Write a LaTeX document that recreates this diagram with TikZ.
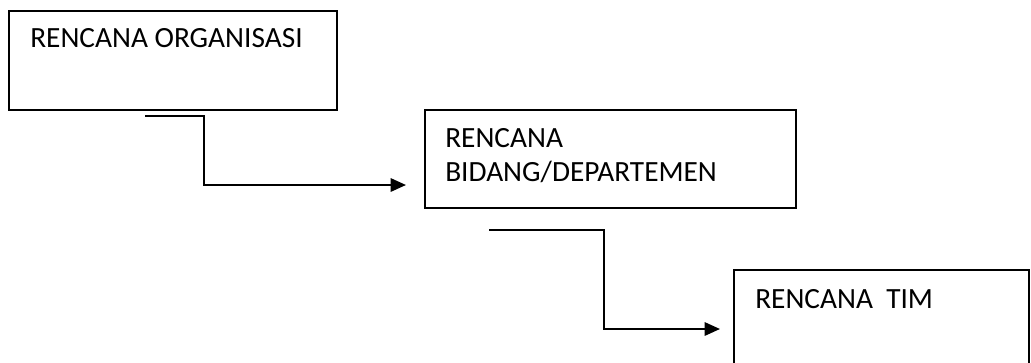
\documentclass[tikz,border=0pt]{standalone}
\usepackage{fontspec}
\setmainfont{Carlito}
\usetikzlibrary{arrows.meta}
\begin{document}
\begin{tikzpicture}[x=0.75pt,y=-0.75pt,
  planbox/.style={draw=black,line width=1.5pt,anchor=north west,inner sep=0pt},
  lbl/.style={anchor=base west,inner sep=0pt,font=\fontsize{22}{26}\selectfont},
  link/.style={line width=1.5pt,-{Triangle[length=11.5pt,width=10pt]}}]
\clip (0,0) rectangle (1031,362);
% plan boxes
\node[planbox,minimum width=246pt,minimum height=74.25pt] (org) at (8,10) {};
\node[planbox,minimum width=278.25pt,minimum height=73.5pt] (dept) at (424,109) {};
\node[planbox,minimum width=221.25pt,minimum height=90pt] (tim) at (733,269) {};
% box texts
\node[lbl] (org-t) at (30,47) {RENCANA ORGANISASI};
\node[lbl] (dept-t1) at (445,147) {RENCANA};
\node[lbl] (dept-t2) at (445,181) {BIDANG/DEPARTEMEN};
\node[lbl] (tim-t) at (755,308) {RENCANA\ \ TIM};
% stepped connectors
\coordinate (a1) at (145,116);
\coordinate (e1) at (406,185);
\coordinate (a2) at (489,230);
\coordinate (e2) at (720,329);
\draw[link] (a1) -- ++(59,0) |- (e1);
\draw[link] (a2) -- ++(115,0) |- (e2);
\end{tikzpicture}
\end{document}
